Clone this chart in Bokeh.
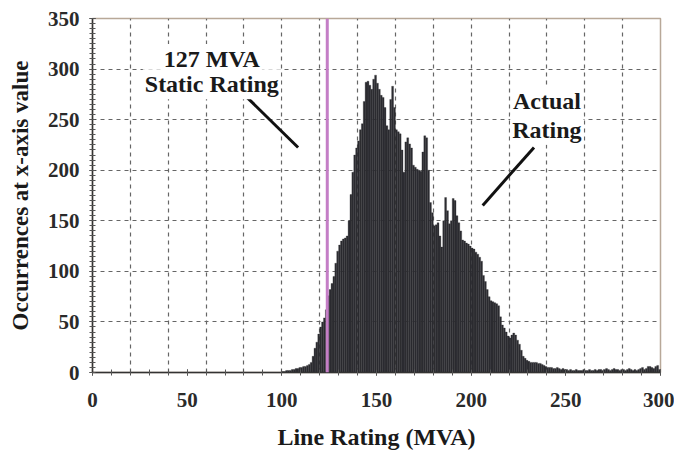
from bokeh.plotting import figure
from bokeh.models import Range1d, FixedTicker, Span, Label
from bokeh.embed import file_html
from bokeh.resources import INLINE

# ---- data (1 MVA bins) ----
bin_start = 100
counts = [
    1, 1, 2, 2, 2, 3, 3, 4, 4, 5,            # 100-109
    5, 6, 6, 7, 8, 10, 16, 24, 30, 38,       # 110-119
    45, 50, 54, 62, 76, 82, 88, 95, 108, 120,  # 120-129
    126, 130, 132, 133, 135, 150, 176, 198, 215, 222,  # 130-139
    229, 240, 246, 268, 287, 288, 284, 280, 290, 294,  # 140-149
    286, 280, 274, 272, 262, 244, 240, 270, 283, 262,  # 150-159
    240, 238, 236, 220, 198, 228, 232, 226, 222, 205,  # 160-169
    203, 201, 200, 199, 218, 234, 232, 200, 168, 158,  # 170-179
    145, 146, 148, 135, 124, 150, 173, 160, 147, 150,  # 180-189
    172, 170, 155, 148, 140, 131, 130, 128, 127, 125,  # 190-199
    123, 122, 119, 117, 114, 110, 96, 90, 82, 75,      # 200-209
    71, 70, 69, 68, 66, 55, 47, 44, 40, 36,            # 210-219
    34, 37, 39, 37, 32, 28, 22, 16, 14, 12,            # 220-229
    11, 10, 10, 10, 10, 9, 9, 8, 7, 6,                 # 230-239
    5, 5, 5, 4, 4, 5, 4, 3, 4, 3,                      # 240-249
    3, 2, 3, 2, 2, 3, 2, 2, 2, 3,                      # 250-259
    2, 2, 3, 2, 2, 3, 2, 3, 3, 2,                      # 260-269
    3, 4, 3, 2, 3, 4, 3, 3, 2, 3,                      # 270-279
    3, 2, 3, 4, 3, 2, 3, 2, 3, 4,                      # 280-289
    5, 3, 4, 6, 6, 5, 4, 6, 7, 3,                      # 290-299
]
bin_centers = [bin_start + i + 0.5 for i in range(len(counts))]

static_rating = 124  # position of the magenta line as drawn
x_tick_labels = [0, 50, 100, 150, 200, 250, 300]
y_tick_labels = [0, 50, 100, 150, 200, 250, 300, 350]

# annotation texts and arrow endpoints (data units)
static_text = ["127 MVA", "Static Rating"]
static_text_x = [63, 63]
static_text_y = [310, 285]
actual_text = ["Actual", "Rating"]
actual_text_x = [240, 240]
actual_text_y = [268, 240]
arrow_x0 = [81.6, 233.2]
arrow_y0 = [272, 222.5]
arrow_x1 = [108.6, 206.1]
arrow_y1 = [222.5, 165.2]

FONT = "Liberation Serif"
TXT = "#1a1a1a"

p = figure(width=674, height=455, output_backend="svg", toolbar_location=None,
           x_range=Range1d(0, 300), y_range=Range1d(0, 350),
           min_border_left=92, min_border_right=14, min_border_top=18, min_border_bottom=83)
p.background_fill_color = "white"
p.border_fill_color = "white"
p.outline_line_color = "#b8a898"
p.outline_line_width = 1.5

p.vbar(x=bin_centers, top=counts, width=1.0, bottom=0,
       fill_color="#2c2c31", line_color="#2c2c31", line_width=0.3)

# axes
p.xaxis.ticker = FixedTicker(ticks=x_tick_labels, minor_ticks=list(range(0, 301, 10)))
p.yaxis.ticker = FixedTicker(ticks=y_tick_labels, minor_ticks=list(range(0, 351, 5)))
for ax in (p.xaxis[0], p.yaxis[0]):
    ax.axis_line_color = "#333333"
    ax.axis_line_width = 1.5
    ax.major_tick_line_color = "#333333"
    ax.minor_tick_line_color = "#555555"
    ax.major_tick_in = 3
    ax.major_tick_out = 3
    ax.minor_tick_in = 3
    ax.minor_tick_out = 3
    ax.major_label_text_font = FONT
    ax.major_label_text_font_style = "bold"
    ax.major_label_text_font_size = "21px"
    ax.major_label_text_color = "#2a2a2a"
    ax.axis_label_text_font = FONT
    ax.axis_label_text_font_style = "bold"
    ax.axis_label_text_color = TXT

p.xaxis.axis_label = "Line Rating (MVA)"
p.xaxis.axis_label_text_font_size = "24px"
p.xaxis.major_label_standoff = 17
p.xaxis.axis_label_standoff = 14
p.yaxis.axis_label = "Occurrences at x-axis value"
p.yaxis.axis_label_text_font_size = "23px"
p.yaxis.major_label_standoff = 10
p.yaxis.axis_label_standoff = 12

# grids
p.xgrid.ticker = FixedTicker(ticks=list(range(20, 300, 20)))
p.ygrid.ticker = FixedTicker(ticks=list(range(50, 350, 50)))
for g in (p.xgrid[0], p.ygrid[0]):
    g.grid_line_color = "#666666"
    g.grid_line_dash = "4 4"
    g.grid_line_width = 1.2

# static rating line
p.add_layout(Span(location=static_rating, dimension="height",
                  line_color="#c47ec6", line_width=3))

# annotations
for txt, tx, ty in list(zip(static_text, static_text_x, static_text_y)) + \
        list(zip(actual_text, actual_text_x, actual_text_y)):
    p.add_layout(Label(x=tx, y=ty, text=txt, text_align="center", text_baseline="middle",
                       text_font=FONT, text_font_style="bold", text_font_size="24px",
                       text_color=TXT, background_fill_color="white",
                       background_fill_alpha=1.0, padding=2))

p.segment(x0=arrow_x0, y0=arrow_y0, x1=arrow_x1, y1=arrow_y1,
          line_color="#111111", line_width=3)

open("out.html", "w").write(file_html(p, INLINE))
